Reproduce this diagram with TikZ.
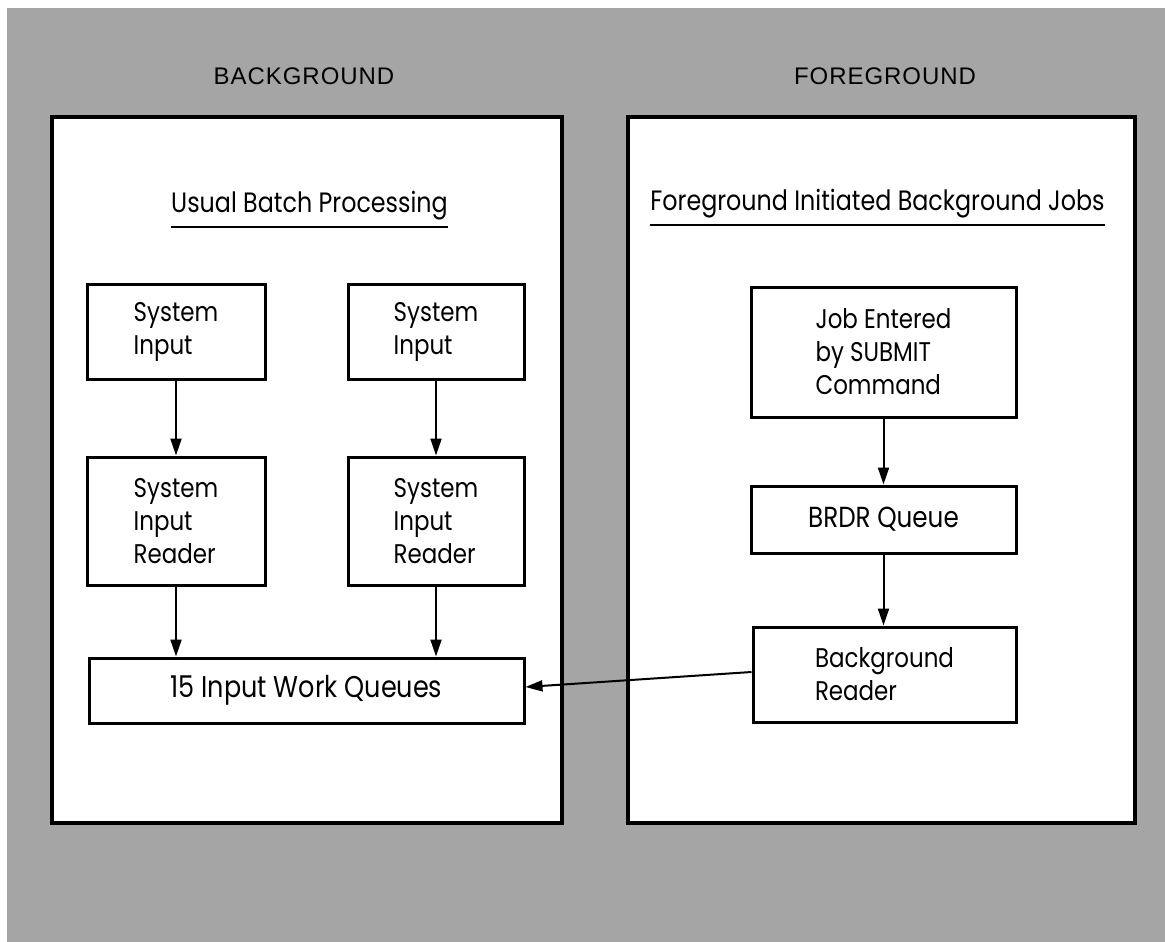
\documentclass[tikz,border=0pt]{standalone}
\usepackage{fontspec}
\setmainfont{Poppins}[FakeStretch=0.85]
\newfontfamily\lblfont{Liberation Sans}[LetterSpace=4]
\usetikzlibrary{arrows.meta}
\definecolor{halftone}{RGB}{165,165,165}
\tikzset{
  panel/.style={draw=black, fill=white, line width=3.5pt, inner sep=0pt},
  box/.style={draw=black, line width=3pt, fill=white, inner sep=0pt, align=left, font=\fontsize{27}{33}\selectfont},
  bigtext/.style={font=\fontsize{29}{33}\selectfont},
  flow/.style={line width=2pt, -{Triangle[length=17pt,width=11pt]}},
  title/.style={inner sep=0pt, font=\fontsize{28}{32}\selectfont},
  zonelabel/.style={inner sep=0pt, font=\lblfont\fontsize{24}{28}\selectfont},
  rule/.style={line width=2.5pt},
}
\begin{document}
\begin{tikzpicture}[x=1pt,y=-1pt]
\useasboundingbox (0,0) rectangle (1165,942);
\fill[halftone] (7,8) rectangle (1165,942);

\node[zonelabel] (bglabel) at (304,76) {BACKGROUND};
\node[zonelabel] (fglabel) at (885,76) {FOREGROUND};

\node[panel, minimum width=510pt, minimum height=706pt] (bgpanel) at (307,470) {};
\node[panel, minimum width=507pt, minimum height=706pt] (fgpanel) at (881.5,470) {};

\node[title, anchor=base] (t1) at (309.5,212) {Usual Batch Processing};
\draw[rule] ([yshift=-15pt]t1.base west) -- ([yshift=-15pt]t1.base east);
\node[title, anchor=base] (t2) at (877.5,210) {Foreground Initiated Background Jobs};
\draw[rule] ([yshift=-15pt]t2.base west) -- ([yshift=-15pt]t2.base east);

\node[box, minimum width=178pt, minimum height=95pt] (si1) at (176,331.5) {System\\Input};
\node[box, minimum width=176pt, minimum height=95pt] (si2) at (436,331.5) {System\\Input};
\node[box, minimum width=178pt, minimum height=128pt] (sir1) at (176,521) {System\\Input\\Reader};
\node[box, minimum width=176pt, minimum height=128pt] (sir2) at (436,521) {System\\Input\\Reader};
\node[box, bigtext, font=\fontsize{30}{33}\selectfont, minimum width=435pt, minimum height=65pt] (iwq) at (306.5,690.5) {15 Input Work Queues};

\node[box, minimum width=265pt, minimum height=130pt] (job) at (883.5,352) {Job Entered\\by SUBMIT\\Command};
\node[box, bigtext, minimum width=265pt, minimum height=67pt] (brdr) at (883.5,519.5) {BRDR Queue};
\node[box, minimum width=263pt, minimum height=95pt] (br) at (884.5,674.5) {Background\\Reader};

\draw[flow] (si1) -- (sir1);
\draw[flow] (si2) -- (sir2);
\draw[flow] (sir1.south) -- (sir1.south |- iwq.north);
\draw[flow] (sir2.south) -- (sir2.south |- iwq.north);
\draw[flow] (job) -- (brdr);
\draw[flow] (brdr.south) -- (brdr.south |- br.north);
\draw[flow] ([yshift=2.5pt]br.west) -- ([yshift=3.5pt]iwq.east);
\end{tikzpicture}
\end{document}
